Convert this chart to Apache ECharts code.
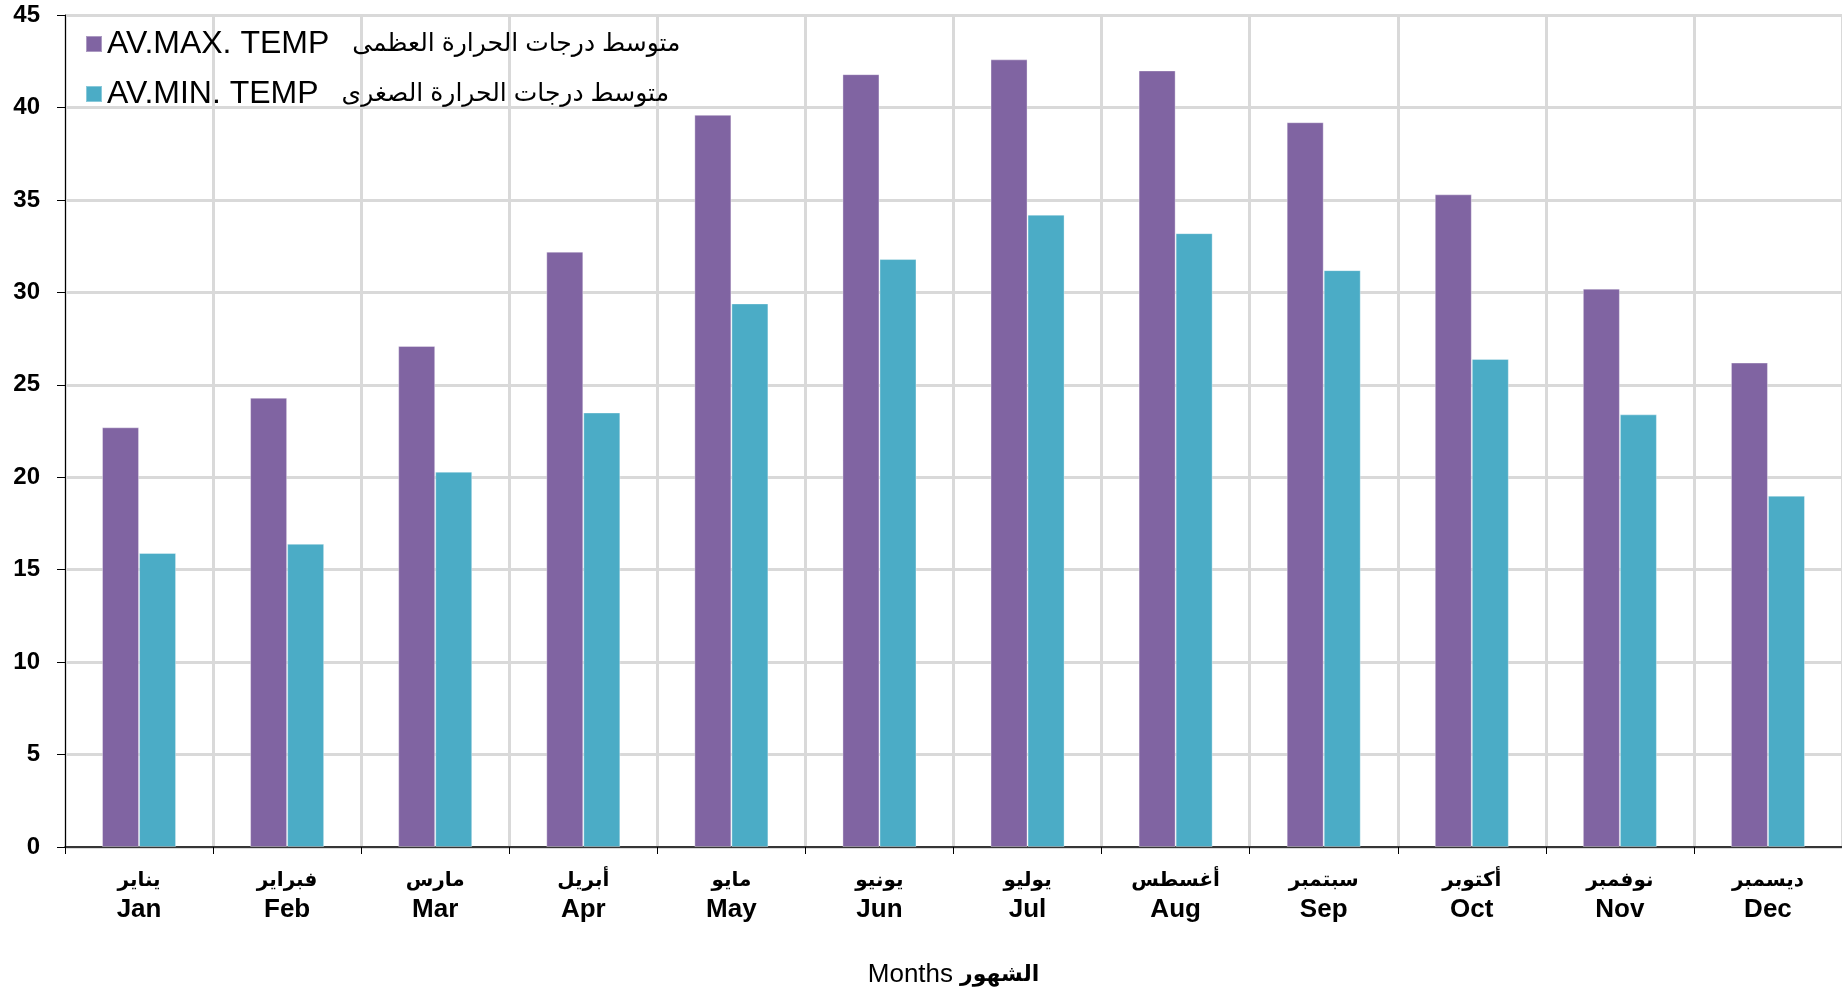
<!DOCTYPE html>
<html>
<head>
<meta charset="utf-8">
<script src="https://cdn.jsdelivr.net/npm/echarts@6/dist/echarts.min.js"></script>
<style>html,body{margin:0;padding:0;background:#fff;}#c{width:1842px;height:991px;}</style>
</head>
<body>
<div id="c"></div>
<script>
const monthsEn = ['Jan','Feb','Mar','Apr','May','Jun','Jul','Aug','Sep','Oct','Nov','Dec'];
const monthsAr = ['يناير','فبراير','مارس','أبريل','مايو','يونيو','يوليو','أغسطس','سبتمبر','أكتوبر','نوفمبر','ديسمبر'];
const maxTemp = [22.7, 24.3, 27.1, 32.2, 39.6, 41.8, 42.6, 42.0, 39.2, 35.3, 30.2, 26.2];
const minTemp = [15.9, 16.4, 20.3, 23.5, 29.4, 31.8, 34.2, 33.2, 31.2, 26.4, 23.4, 19.0];
const seriesEn = ['AV.MAX. TEMP', 'AV.MIN. TEMP'];
const seriesAr = ['متوسط درجات الحرارة العظمى', 'متوسط درجات الحرارة الصغرى'];
const seriesNames = [seriesEn[0] + ' ' + seriesAr[0], seriesEn[1] + ' ' + seriesAr[1]];
const yTicks = {min: 0, max: 45, interval: 5};
const xAxisName = ['Months', 'الشهور'];

const FONT = "'Liberation Sans', Arial, 'DejaVu Sans', sans-serif";
const chart = echarts.init(document.getElementById('c'));
chart.setOption({
  animation: false,
  backgroundColor: '#ffffff',
  textStyle: {fontFamily: FONT},
  grid: {left: 65, top: 15, right: 0, bottom: 144, containLabel: false, outerBoundsMode: 'none'},
  legend: {
    orient: 'vertical',
    left: 80,
    top: 23,
    itemWidth: 16,
    itemHeight: 16,
    itemGap: 18,
    icon: 'rect',
    formatter: function (name) {
      const i = seriesNames.indexOf(name);
      return '{en|' + seriesEn[i] + '}{sp|}{ar|' + seriesAr[i] + '}';
    },
    textStyle: {
      fontFamily: FONT, fontSize: 32, color: '#000', lineHeight: 31,
      rich: {
        en: {fontFamily: FONT, fontSize: 32, color: '#000', lineHeight: 31},
        sp: {width: 23},
        ar: {fontFamily: FONT, fontSize: 25, color: '#000', lineHeight: 31}
      }
    },
    data: seriesNames
  },
  xAxis: {
    type: 'category',
    data: monthsEn,
    axisLine: {lineStyle: {color: '#000', width: 1.5}},
    axisTick: {show: true, length: 7, lineStyle: {color: '#000'}},
    splitLine: {show: true, lineStyle: {color: '#d9d9d9', width: 3}},
    axisLabel: {
      margin: 18,
      formatter: function (v, i) { return '{ar|' + monthsAr[i] + '}\n{en|' + v + '}'; },
      rich: {
        ar: {fontFamily: FONT, fontSize: 20, fontWeight: 'bold', color: '#000', lineHeight: 30},
        en: {fontFamily: FONT, fontSize: 26, fontWeight: 'bold', color: '#000', lineHeight: 30}
      }
    },
    name: '{a|' + xAxisName[0] + '}{sp|}{b|' + xAxisName[1] + '}',
    nameLocation: 'middle',
    nameGap: 115,
    nameTextStyle: {
      rich: {
        a: {fontFamily: FONT, fontSize: 26, color: '#000'},
        sp: {width: 7},
        b: {fontFamily: FONT, fontSize: 22, fontWeight: 'bold', color: '#000'}
      }
    }
  },
  yAxis: {
    type: 'value',
    min: yTicks.min,
    max: yTicks.max,
    interval: yTicks.interval,
    axisLine: {show: true, lineStyle: {color: '#000', width: 1}},
    axisTick: {show: true, length: 8, lineStyle: {color: '#000'}},
    splitLine: {show: true, lineStyle: {color: '#d9d9d9', width: 3}},
    axisLabel: {margin: 25, fontFamily: FONT, fontSize: 24, fontWeight: 'bold', color: '#000'}
  },
  series: [
    {
      name: seriesNames[0], type: 'bar', data: maxTemp,
      barWidth: '25%', barGap: '0%',
      itemStyle: {color: '#8064A2', borderColor: 'rgba(255,255,255,0.35)', borderWidth: 1}
    },
    {
      name: seriesNames[1], type: 'bar', data: minTemp,
      barWidth: '25%', barGap: '0%',
      itemStyle: {color: '#4BACC6', borderColor: 'rgba(255,255,255,0.35)', borderWidth: 1}
    }
  ]
});
</script>
</body>
</html>
